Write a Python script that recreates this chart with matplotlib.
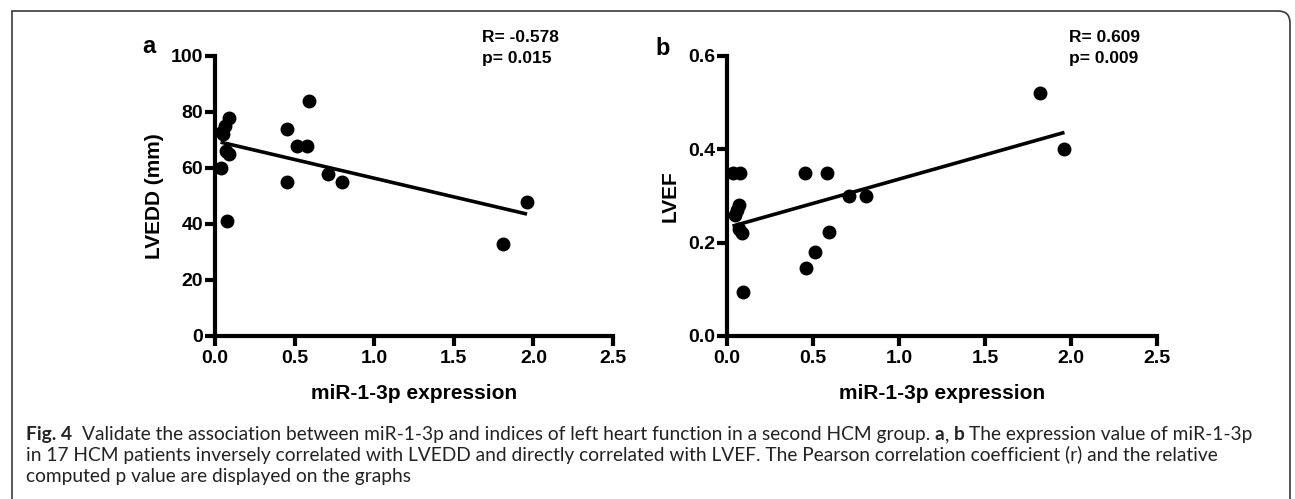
import numpy as np
import matplotlib
matplotlib.use("Agg")
import matplotlib.pyplot as plt
from matplotlib.path import Path
from matplotlib.patches import PathPatch

# miR-1-3p expression vs LVEDD (panel a) and LVEF (panel b), 17 HCM patients
mir_a = [0.035, 0.073, 0.052, 0.046, 0.063, 0.090, 0.069, 0.088, 0.455,
         0.450, 0.514, 0.580, 0.590, 0.710, 0.800, 1.810, 1.960]
lvedd = [60, 41, 72, 73, 75, 78, 66, 65, 74, 55, 68, 68, 84, 58, 55, 33, 48]

mir_b = [0.032, 0.075, 0.067, 0.058, 0.048, 0.071, 0.087, 0.091, 0.452,
         0.458, 0.514, 0.579, 0.591, 0.712, 0.806, 1.817, 1.962]
lvef = [0.35, 0.35, 0.28, 0.27, 0.26, 0.23, 0.22, 0.095, 0.35, 0.145,
        0.18, 0.35, 0.222, 0.30, 0.30, 0.52, 0.40]

x_ticks = [0.0, 0.5, 1.0, 1.5, 2.0, 2.5]
lvedd_ticks = [0, 20, 40, 60, 80, 100]
lvef_ticks = [0.0, 0.2, 0.4, 0.6]

stats_a = ["R= -0.578", "p= 0.015"]
stats_b = ["R= 0.609", "p= 0.009"]
x_label = "miR-1-3p expression"

W, H = 1295, 499
fig = plt.figure(figsize=(W / 100, H / 100), dpi=100)
ARIAL = ["Liberation Sans", "DejaVu Sans"]
CAP = ["Lato", "DejaVu Sans"]


def px_box(l, t, r, b):
    return [l / W, 1 - b / H, (r - l) / W, (b - t) / H]


def style_axes(ax, xt, yt, yfmt):
    for s in ["top", "right"]:
        ax.spines[s].set_visible(False)
    for s in ["left", "bottom"]:
        ax.spines[s].set_linewidth(3)
    ax.set_xlim(0, 2.5)
    ax.set_ylim(yt[0], yt[-1])
    ax.set_xticks(xt)
    ax.set_xticklabels([f"{v:.1f}" for v in xt])
    ax.set_yticks(yt)
    ax.set_yticklabels([yfmt.format(v) for v in yt])
    ax.tick_params(direction="out", length=7, width=3)
    ax.tick_params(axis="y", pad=1.5)
    ax.tick_params(axis="x", pad=3)
    for lab in ax.get_xticklabels() + ax.get_yticklabels():
        lab.set_fontfamily(ARIAL)
        lab.set_fontweight("bold")
        lab.set_fontsize(14)


def scatter_fit(ax, x, y):
    x = np.array(x)
    y = np.array(y)
    ax.plot(x, y, "o", color="black", markersize=9, clip_on=False, zorder=3)
    k, b0 = np.polyfit(x, y, 1)
    xx = np.array([x.min(), x.max()])
    ax.plot(xx, k * xx + b0, color="black", lw=2.6, solid_capstyle="butt")


ax_a = fig.add_axes(px_box(215, 56, 613, 336))
ax_b = fig.add_axes(px_box(727, 56, 1157, 336))

scatter_fit(ax_a, mir_a, lvedd)
scatter_fit(ax_b, mir_b, lvef)
style_axes(ax_a, x_ticks, lvedd_ticks, "{:.0f}")
style_axes(ax_b, x_ticks, lvef_ticks, "{:.1f}")

lab_kw = dict(fontfamily=ARIAL, fontweight="bold", fontsize=15)
ax_a.set_xlabel(x_label, **lab_kw)
ax_b.set_xlabel(x_label, **lab_kw)
ax_a.set_ylabel("LVEDD (mm)", **lab_kw)
ax_b.set_ylabel("LVEF", **lab_kw)
ax_a.xaxis.set_label_coords(0.5, (336 - 384) / 280)
ax_b.xaxis.set_label_coords(0.5, (336 - 384) / 280)
ax_a.yaxis.set_label_coords((164 - 215) / 398, 0.5)
ax_b.yaxis.set_label_coords((680 - 727) / 430, 0.5)


def ftext(x, y, s, **kw):
    return fig.text(x / W, 1 - y / H, s, **kw)


# panel letters and correlation stats
ftext(142, 53, "a", fontfamily=ARIAL, fontweight="bold", fontsize=17, va="baseline")
ftext(655, 55, "b", fontfamily=ARIAL, fontweight="bold", fontsize=17, va="baseline")
for i, s in enumerate(stats_a):
    ftext(482, 37 + 22 * i, s, fontfamily=ARIAL, fontweight="bold", fontsize=12.5, va="center")
for i, s in enumerate(stats_b):
    ftext(1069, 37 + 22 * i, s, fontfamily=ARIAL, fontweight="bold", fontsize=12.5, va="center")

# caption, mixed bold/regular pieces
cap_lines = [
    [("Fig. 4", "bold"), ("  Validate the association between miR-1-3p and indices of left heart "
                         "function in a second HCM group. ", "normal"),
     ("a", "bold"), (", ", "normal"), ("b", "bold"), (" The expression value of miR-1-3p", "normal")],
    [("in 17 HCM patients inversely correlated with LVEDD and directly correlated with LVEF. "
      "The Pearson correlation coefficient (r) and the relative", "normal")],
    [("computed p value are displayed on the graphs", "normal")],
]
renderer = fig.canvas.get_renderer()


def text_w(s, weight, size):
    t = fig.text(0, 0, s.replace(" ", "\u00a0"), fontfamily=CAP, fontweight=weight, fontsize=size)
    w = t.get_window_extent(renderer).width
    t.remove()
    return w


def space_w(weight, size):
    return text_w("a a", weight, size) - text_w("aa", weight, size)


def line_w(pieces, size):
    total = 0
    for s, wt in pieces:
        core = s.strip(" ")
        lead = len(s) - len(s.lstrip(" "))
        trail = len(s) - len(s.rstrip(" "))
        total += (lead + trail) * space_w(wt, size) + text_w(core, wt, size)
    return total


size = 10 * (1232 / line_w(cap_lines[0], 10))
baselines = [440, 461, 482]
for pieces, yb in zip(cap_lines, baselines):
    x = 26
    for s, wt in pieces:
        core = s.strip(" ")
        lead = len(s) - len(s.lstrip(" "))
        trail = len(s) - len(s.rstrip(" "))
        x += lead * space_w(wt, size)
        ftext(x, yb, core, fontfamily=CAP, fontweight=wt, fontsize=size,
              va="baseline", color="#222222")
        x += text_w(core, wt, size) + trail * space_w(wt, size)

# figure frame with rounded top-right corner
r = 12
pts = [(12, H + 5), (12, 11), (1290 - r, 11), (1290, 11), (1290, 11 + r), (1290, H + 5)]
codes = [Path.MOVETO, Path.LINETO, Path.LINETO, Path.CURVE3, Path.CURVE3, Path.LINETO]
verts = [(px / W, 1 - py / H) for px, py in pts]
fig.add_artist(PathPatch(Path(verts, codes), transform=fig.transFigure,
                         fill=False, edgecolor="#3a3a3a", lw=1.2))

fig.savefig("out.png", dpi=100)
